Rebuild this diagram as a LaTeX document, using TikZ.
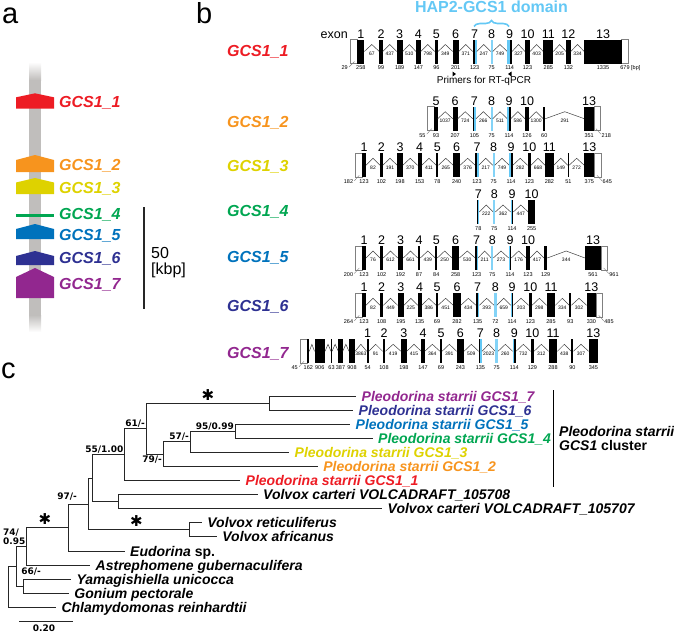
\documentclass[tikz,border=0pt]{standalone}
\usepackage{fontspec}
\setmainfont{Liberation Sans}
\newfontfamily\dejavu{DejaVu Sans}
\usepackage{tikz}
\usetikzlibrary{positioning, calc, decorations.pathreplacing}

\definecolor{gcsA}{RGB}{237,28,36}
\definecolor{gcsB}{RGB}{247,148,30}
\definecolor{gcsC}{RGB}{222,210,0}
\definecolor{gcsD}{RGB}{0,166,81}
\definecolor{gcsE}{RGB}{0,114,188}
\definecolor{gcsF}{RGB}{46,49,146}
\definecolor{gcsG}{RGB}{146,39,143}
\definecolor{hap}{RGB}{100,200,245}
\definecolor{chromo}{RGB}{192,190,188}

\newcommand{\fs}[1]{\fontsize{#1}{#1}\selectfont}

\tikzset{panel letter/.style={anchor=base west, inner sep=0, font=\fs{29}}}
\tikzset{gene label/.style={anchor=base west, inner sep=0, font=\fs{16}\bfseries\itshape}}
\tikzset{exon number/.style={anchor=base, inner sep=0, font=\fs{12.5}}}
\tikzset{exon length/.style={inner sep=0, font=\fs{5.5}}}
\tikzset{intron length/.style={inner sep=0, font=\fs{5}}}
\tikzset{intron/.style={draw=black!75, line width=0.5pt}}
\tikzset{utr/.style={draw=black!50, fill=white, line width=0.6pt}}
\tikzset{leader/.style={draw=black!50, line width=0.4pt}}
\tikzset{branch/.style={draw=black!85, line width=0.9pt}}
\tikzset{leaf/.style={anchor=base west, inner sep=0, xshift=5.5pt, yshift=-5pt, font=\fs{14}\bfseries\itshape}}
\tikzset{support/.style={inner sep=1pt, font=\fs{9}\dejavu\bfseries}}
\tikzset{star/.style={inner sep=0, font=\fs{15}\dejavu}}

% one gene model: name, top of the boxes, exons xl/xr/number/length/intron before/kind
\newcommand{\generow}[3]{%
  \foreach \xl/\xr/\num/\len/\inl/\kind [count=\i, remember=\xr as \px (initially 0)] in {#3} {
    \ifnum\i>1\relax
      \draw[intron] (\px,#2+12) -- ({(\px+\xl)/2},#2+5) -- (\xl,#2+12);
      \node[intron length] (#1i\i) at ({(\px+\xl)/2},#2+14) {\inl};
    \fi
    \ifcase\kind\relax
      \fill (\xl,#2) rectangle (\xr,#2+24);
    \or
      \fill (\xl,#2) rectangle ({(\xl+\xr)/2},#2+24);
      \fill[hap] ({(\xl+\xr)/2},#2) rectangle (\xr,#2+24);
    \or
      \fill[hap] (\xl,#2) rectangle ({(\xl+\xr)/2},#2+24);
      \fill ({(\xl+\xr)/2},#2) rectangle (\xr,#2+24);
    \or
      \fill[hap!80] (\xl,#2) rectangle (\xr,#2+24);
    \fi
    \node[exon number] (#1e\i) at ({(\xl+\xr)/2},#2-1.5) {\num};
    \node[exon length] (#1l\i) at ({(\xl+\xr)/2},#2+28.5) {\len};
  }%
}
% untranslated region box
\newcommand{\utr}[3]{\draw[utr] (#1,#3) rectangle (#2,#3+24);}

\begin{document}
\begin{tikzpicture}[x=1pt, y=-1pt]
\useasboundingbox (0,0) rectangle (674,633);

% panel a
\node[panel letter] (pa) at (2,23) {a};
\shade[top color=white, bottom color=chromo] (29,62) rectangle (41,80);
\fill[chromo] (29,80) rectangle (41,315);
\shade[top color=chromo, bottom color=white] (29,315) rectangle (41,332);
\foreach \c/\ap/\sh/\bt in {gcsA/93.3/97.3/108.7, gcsB/155/160/172, gcsC/178/182.5/194,
    gcsE/224/229/239, gcsF/251/256/265, gcsG/268/277/298}
  \fill[\c] (16,\bt) -- (16,\sh) -- (35,\ap) -- (54,\sh) -- (54,\bt) -- cycle;
\fill[gcsD] (16,213.5) rectangle (54,216.5);
\foreach \c/\n/\yy in {gcsA/1/107, gcsB/2/170, gcsC/3/193, gcsD/4/219, gcsE/5/240, gcsF/6/263, gcsG/7/289}
  \node[gene label, text=\c] (a\n) at (59,\yy) {GCS1\_\n};
\coordinate (kb top) at (144,207);
\coordinate (kb bot) at (144,309);
\draw[line width=1.6pt, black!85] (kb top) -- (kb bot);
\node[anchor=base west, inner sep=0, font=\fs{16}] (kb) at (151,258) {50};
\node[anchor=base west, inner sep=0, font=\fs{16}] (kbp) at (151,274.5) {[kbp]};

% panel b
\node[panel letter] (pb) at (196,23) {b};
\foreach \c/\n/\yy in {gcsA/1/56, gcsB/2/127.3, gcsC/3/171, gcsD/4/216, gcsE/5/262.7, gcsF/6/311, gcsG/7/358.7}
  \node[gene label, text=\c] (b\n) at (227,\yy) {GCS1\_\n};
\node[font=\fs{16}\bfseries, text=hap, anchor=base] (domain) at (491.5,12.5) {HAP2-GCS1 domain};
\coordinate (br1) at (474,26.5);
\coordinate (br2) at (509,26.5);
\draw[hap, line width=1.6pt, decorate, decoration={brace, amplitude=6pt}] (br1) -- (br2);
\node[exon number, anchor=base east] (exonword) at (348,38) {exon};

% GCS1_1
\utr{350}{357.3}{39.5}
\utr{621.7}{628.3}{39.5}
\generow{r1}{39.5}{357.3/364.3/1/258/-/0, 379.3/382.7/2/99/67/0, 396.7/402.7/3/189/437/0,
  416/420.7/4/147/510/0, 434.7/438/5/96/798/0, 452.7/458.7/6/201/349/0, 472.7/476.7/7/123/371/1,
  490.7/492.7/8/75/247/3, 507.3/512/9/114/749/2, 525/530/10/123/327/0, 543.3/553.3/11/285/403/0,
  566/570.7/12/132/205/0, 584.3/621.7/13/1335/334/0}
\draw[leader] (349,67) -- (354.5,61.5);
\node[exon length, anchor=east] (r1u5) at (348,68) {29};
\node[exon length] (r1u3) at (625,68) {679};
\node[exon length, anchor=west] (r1bp) at (631,68) {[bp]};
\fill (452.5,71.5) -- (456,74) -- (452.5,76.5) -- cycle;
\fill (511.5,71.5) -- (508,74) -- (511.5,76.5) -- cycle;
\node[font=\fs{10}] (primers) at (484,81) {Primers for RT-qPCR};

% GCS1_2
\utr{427.7}{434.3}{106.7}
\utr{594}{600}{106.7}
\generow{r2}{106.7}{434.3/437.7/5/93/-/0, 452.7/457.7/6/207/1037/0, 472.7/476/7/105/724/1,
  490.7/492.7/8/75/266/3, 507.3/510.7/9/114/511/2, 525/529/10/126/586/0,
  543.3/545.3/{}/60/1300/0, 584.3/594/13/351/291/0}
\draw[leader] (426.7,134.2) -- (431.7,128.7);
\node[exon length, anchor=east] (r2u5) at (425.7,135.2) {55};
\draw[leader] (596,128.7) -- (601,134.2);
\node[exon length, anchor=west] (r2u3) at (601.5,135.2) {218};

% GCS1_3
\utr{355.3}{362}{153.3}
\utr{594.3}{601}{153.3}
\generow{r3}{153.3}{362/366/1/123/-/0, 380/382.7/2/102/82/0, 397.3/402.7/3/198/191/0,
  417.7/421.7/4/153/370/0, 436.3/438.3/5/78/411/0, 453.3/460/6/240/265/0, 475.3/478.7/7/123/376/1,
  492.7/494.7/8/75/217/3, 509.3/512.7/9/114/749/2, 527.7/531/10/123/282/0, 545/553.7/11/282/668/0,
  567.7/569/{}/51/149/0, 584.3/594.3/13/375/272/0}
\draw[leader] (354.3,180.8) -- (359.3,175.3);
\node[exon length, anchor=east] (r3u5) at (353.3,181.8) {182};
\draw[leader] (597,175.3) -- (602,180.8);
\node[exon length, anchor=west] (r3u3) at (602.5,181.8) {645};

% GCS1_4
\generow{r4}{200}{477.3/479.3/7/78/-/1, 493.3/495.3/8/75/222/3, 510.7/513.3/9/114/362/2,
  528.3/535/10/255/447/0}

% GCS1_5
\utr{355.3}{362}{246}
\utr{601}{607.7}{246}
\generow{r5}{246}{362/366/1/123/-/0, 380/383.3/2/102/76/0, 397.7/403.3/3/192/612/0,
  417.7/420.3/4/87/661/0, 435.3/437.3/5/84/439/0, 452/459.3/6/258/250/0, 475.3/478/7/123/530/1,
  491.3/493.3/8/75/211/3, 508.7/511.3/9/114/273/2, 526/530/10/123/176/0,
  544/547.3/{}/129/417/0, 585/601/13/561/344/0}
\draw[leader] (354.3,273.5) -- (359.3,268);
\node[exon length, anchor=east] (r5u5) at (353.3,274.5) {200};
\draw[leader] (603.7,268) -- (608.7,273.5);
\node[exon length, anchor=west] (r5u3) at (609.2,274.5) {961};

% GCS1_6
\utr{355.3}{362}{293.3}
\utr{596}{602.7}{293.3}
\generow{r6}{293.3}{362/366/1/123/-/0, 380/383.3/2/108/82/0, 397.7/404/3/195/449/0,
  417.7/421.7/4/135/225/0, 436/438/5/69/386/0, 453.3/460.7/6/282/451/0, 476/479.3/7/135/434/1,
  494/496.7/8/72/393/3, 510.7/513.3/9/114/659/2, 528.7/532/10/123/203/0, 546.7/555.3/11/285/298/0,
  569.3/571.3/{}/93/334/0, 586.7/596/13/330/302/0}
\draw[leader] (354.3,320.8) -- (359.3,315.3);
\node[exon length, anchor=east] (r6u5) at (353.3,321.8) {264};
\draw[leader] (598.7,315.3) -- (603.7,320.8);
\node[exon length, anchor=west] (r6u3) at (604.2,321.8) {485};

% GCS1_7
\utr{300}{307.3}{339.3}
\generow{r7}{339.3}{307.3/309.3/{}/162/-/0, 314.5/325/{}/906/{}/0, 331/332/{}/63/{}/0,
  338.3/342.7/{}/387/{}/0, 349/355/{}/908/{}/0, 366.7/368.7/1/54/3863/0, 382.7/385.3/2/108/91/0,
  401/406.7/3/198/419/0, 421.3/424.7/4/147/415/0, 440/442/5/69/364/0, 456.7/464/6/243/391/0,
  478.7/482/7/135/509/1, 495.3/498/8/75/2023/3, 512.7/516/9/114/260/2, 530.7/534/10/129/732/0,
  548.7/557.3/11/288/312/0, 571.3/573.3/{}/90/438/0, 588.7/598/13/345/307/0}
\draw[leader] (299,366.8) -- (304,361.3);
\node[exon length, anchor=east] (r7u5) at (298,367.8) {45};

% panel c
\node[panel letter] (pc) at (1,378) {c};
\coordinate (l7) at (356,396);
\coordinate (l6) at (353,410.1);
\coordinate (l5) at (350,424.2);
\coordinate (l4) at (372.5,438.3);
\coordinate (l3) at (289,452.4);
\coordinate (l2) at (317.6,466.5);
\coordinate (l1) at (240,480.5);
\coordinate (vc8) at (257.5,494.6);
\coordinate (vc7) at (382,508.7);
\coordinate (vr) at (201.7,522.8);
\coordinate (va) at (216.7,536.9);
\coordinate (eu) at (124.5,551);
\coordinate (as) at (90,565.1);
\coordinate (ya) at (70.8,579.2);
\coordinate (go) at (68.7,593.3);
\coordinate (ch) at (55.8,607.4);
\coordinate (n76) at (269.5,403.05);
\coordinate (n54) at (235,431.25);
\coordinate (n543) at (190,441.8);
\coordinate (n79) at (163,454.2);
\coordinate (n61) at (146,428.6);
\coordinate (n55) at (124.5,454.55);
\coordinate (nvc) at (118,501.65);
\coordinate (nA) at (92,478.1);
\coordinate (nvr) at (189,529.85);
\coordinate (n97) at (88,504);
\coordinate (nC) at (68.7,527.5);
\coordinate (nD) at (26.6,546.3);
\coordinate (nF) at (23.6,586.25);
\coordinate (nG) at (16.3,566.3);
\coordinate (root) at (8.6,586.85);
\foreach \p/\c in {n76/l7, n76/l6, n54/l5, n54/l4, n543/n54, n543/l3, n79/n543, n79/l2,
    n61/n76, n61/n79, n55/n61, n55/l1, nvc/vc8, nvc/vc7, nA/n55, nA/nvc, nvr/vr, nvr/va,
    n97/nA, n97/nvr, nC/n97, nC/eu, nD/nC, nD/as, nF/ya, nF/go, nG/nD, nG/nF, root/nG, root/ch}
  \draw[branch] (\p) |- (\c);

\node[leaf, text=gcsG] (t7) at (l7) {Pleodorina starrii GCS1\_7};
\node[leaf, text=gcsF] (t6) at (l6) {Pleodorina starrii GCS1\_6};
\node[leaf, text=gcsE] (t5) at (l5) {Pleodorina starrii GCS1\_5};
\node[leaf, text=gcsD] (t4) at (l4) {Pleodorina starrii GCS1\_4};
\node[leaf, text=gcsC] (t3) at (l3) {Pleodorina starrii GCS1\_3};
\node[leaf, text=gcsB] (t2) at (l2) {Pleodorina starrii GCS1\_2};
\node[leaf, text=gcsA] (t1) at (l1) {Pleodorina starrii GCS1\_1};
\node[leaf] (tvc8) at (vc8) {Volvox carteri VOLCADRAFT\_105708};
\node[leaf] (tvc7) at (vc7) {Volvox carteri VOLCADRAFT\_105707};
\node[leaf] (tvr) at (vr) {Volvox reticuliferus};
\node[leaf] (tva) at (va) {Volvox africanus};
\node[leaf] (teu) at (eu) {Eudorina \upshape sp.};
\node[leaf] (tas) at (as) {Astrephomene gubernaculifera};
\node[leaf] (tya) at (ya) {Yamagishiella unicocca};
\node[leaf] (tgo) at (go) {Gonium pectorale};
\node[leaf] (tch) at (ch) {Chlamydomonas reinhardtii};

\node[support, anchor=south east] (s95) at (n54) {95/0.99};
\node[support, anchor=south east] (s57) at (n543) {57/-};
\node[support, anchor=north east] (s79) at (n79) {79/-};
\node[support, anchor=south east] (s61) at (n61) {61/-};
\node[support, anchor=south east] (s55) at (n55) {55/1.00};
\node[support, anchor=south east, xshift=-10pt, yshift=2pt] (s97) at (n97) {97/-};
\node[support, anchor=south east, align=left] (s74) at (nD) {74/\\0.95};
\node[support, anchor=south west] (s66) at ($(nF)+(-3.5,-9.5)$) {66/-};

\node[star] (star1) at (208,395) {✱};
\node[star] (star2) at (136.5,521) {✱};
\node[star] (star3) at (45,519.5) {✱};

\coordinate (cl top) at (553.6,390);
\coordinate (cl bot) at (553.6,487);
\draw[line width=0.8pt] (cl top) -- (cl bot);
\node[anchor=west, align=left, inner sep=0, font=\fs{14}\bfseries] (cluster) at (559,438)
  {\textit{Pleodorina starrii}\\\textit{GCS1} cluster};

\coordinate (sb1) at (19.3,621.7);
\coordinate (sb2) at (73,621.7);
\draw[branch] (sb1) -- (sb2);
\node[support] (sbl) at (44,628.5) {0.20};
\end{tikzpicture}
\end{document}
